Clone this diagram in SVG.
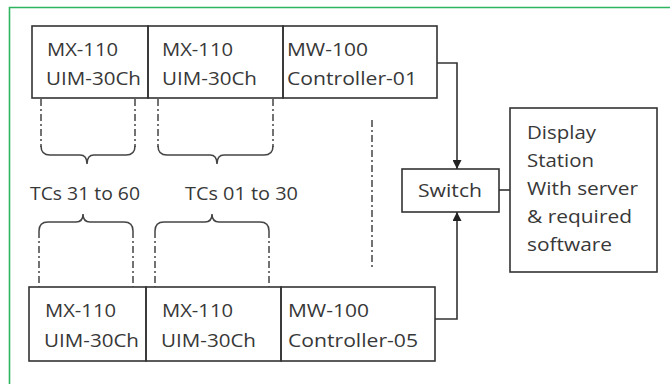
<svg xmlns="http://www.w3.org/2000/svg" width="670" height="384" viewBox="0 0 670 384">
<style>
.bx{fill:none;stroke:#333;stroke-width:1.6}
.t{font-family:"Open Sans","Noto Sans","DejaVu Sans",sans-serif;font-size:18.5px;fill:#383838}
.dd{fill:none;stroke:#444;stroke-width:1.5;stroke-dasharray:7 3 2 3}
.br{fill:none;stroke:#444;stroke-width:1.5}
.ln{fill:none;stroke:#333;stroke-width:1.6}
</style>
<defs>
<marker id="ah" viewBox="0 0 10 10" refX="10" refY="5" markerWidth="9" markerHeight="9" orient="auto" markerUnits="userSpaceOnUse">
<path d="M0,0 L10,5 L0,10 Z" fill="#222"/>
</marker>
</defs>
<rect width="670" height="384" fill="#fff"/>
<path d="M9.5,384 L9.5,7.5 L670,7.5" fill="none" stroke="#2fb45f" stroke-width="1.6"/>

<g id="top-mx1">
<rect class="bx" x="32" y="26" width="116" height="72"/>
<text class="t" x="47" y="55.5" textLength="71" lengthAdjust="spacingAndGlyphs">MX-110</text>
<text class="t" x="46" y="85" textLength="95" lengthAdjust="spacingAndGlyphs">UIM-30Ch</text>
</g>
<g id="top-mx2">
<rect class="bx" x="148" y="26" width="135" height="72"/>
<text class="t" x="162" y="55.5" textLength="71" lengthAdjust="spacingAndGlyphs">MX-110</text>
<text class="t" x="162" y="85" textLength="95" lengthAdjust="spacingAndGlyphs">UIM-30Ch</text>
</g>
<g id="top-mw">
<rect class="bx" x="283" y="26" width="154" height="72"/>
<text class="t" x="287" y="55.5" textLength="81" lengthAdjust="spacingAndGlyphs">MW-100</text>
<text class="t" x="287" y="85" textLength="130" lengthAdjust="spacingAndGlyphs">Controller-01</text>
</g>

<g id="bot-mx1">
<rect class="bx" x="29" y="287" width="117" height="74"/>
<text class="t" x="45" y="317" textLength="71" lengthAdjust="spacingAndGlyphs">MX-110</text>
<text class="t" x="44" y="347" textLength="95" lengthAdjust="spacingAndGlyphs">UIM-30Ch</text>
</g>
<g id="bot-mx2">
<rect class="bx" x="146" y="287" width="135" height="74"/>
<text class="t" x="162" y="317" textLength="71" lengthAdjust="spacingAndGlyphs">MX-110</text>
<text class="t" x="161" y="347" textLength="95" lengthAdjust="spacingAndGlyphs">UIM-30Ch</text>
</g>
<g id="bot-mw">
<rect class="bx" x="281" y="287" width="154" height="74"/>
<text class="t" x="288" y="317" textLength="81" lengthAdjust="spacingAndGlyphs">MW-100</text>
<text class="t" x="288" y="347" textLength="130" lengthAdjust="spacingAndGlyphs">Controller-05</text>
</g>

<g id="switch">
<rect class="bx" x="402" y="169" width="97" height="43"/>
<text class="t" x="418" y="197" textLength="64" lengthAdjust="spacingAndGlyphs">Switch</text>
</g>
<g id="display">
<rect class="bx" x="510" y="108" width="147" height="164"/>
<text class="t" x="527" y="139" textLength="69" lengthAdjust="spacingAndGlyphs">Display</text>
<text class="t" x="527" y="167" textLength="67" lengthAdjust="spacingAndGlyphs">Station</text>
<text class="t" x="527" y="195" textLength="111" lengthAdjust="spacingAndGlyphs">With server</text>
<text class="t" x="527" y="223" textLength="105" lengthAdjust="spacingAndGlyphs">&amp; required</text>
<text class="t" x="527" y="251" textLength="85" lengthAdjust="spacingAndGlyphs">software</text>
</g>

<g id="labels">
<text class="t" x="30" y="200" textLength="110" lengthAdjust="spacingAndGlyphs">TCs 31 to 60</text>
<text class="t" x="185" y="200" textLength="113" lengthAdjust="spacingAndGlyphs">TCs 01 to 30</text>
</g>

<g id="connectors">
<path class="ln" d="M437,63 L457,63 L457,169" marker-end="url(#ah)"/>
<path class="ln" d="M435,319 L457,319 L457,212" marker-end="url(#ah)"/>
<path class="ln" d="M499,190 L510,190"/>
<line class="dd" x1="41" y1="99" x2="41" y2="147"/>
<line class="dd" x1="135" y1="99" x2="135" y2="147"/>
<line class="dd" x1="158" y1="99" x2="158" y2="147"/>
<line class="dd" x1="273" y1="99" x2="273" y2="147"/>
<line class="dd" x1="372" y1="120" x2="372" y2="268"/>
<line class="dd" x1="39" y1="231" x2="39" y2="287"/>
<line class="dd" x1="133" y1="231" x2="133" y2="287"/>
<line class="dd" x1="155" y1="231" x2="155" y2="287"/>
<line class="dd" x1="269" y1="231" x2="269" y2="287"/>
<path class="br" d="M41,146 Q41,155 50,155 L80,155 Q87,155 87,164 Q87,155 94,155 L126,155 Q135,155 135,146"/>
<path class="br" d="M158,146 Q158,155 167,155 L210,155 Q217,155 217,164 Q217,155 224,155 L264,155 Q273,155 273,146"/>
<path class="br" d="M39,231 Q39,222 48,222 L76,222 Q83,222 83,214 Q83,222 90,222 L124,222 Q133,222 133,231"/>
<path class="br" d="M155,231 Q155,222 164,222 L205,222 Q212,222 212,214 Q212,222 219,222 L260,222 Q269,222 269,231"/>
</g>
</svg>
